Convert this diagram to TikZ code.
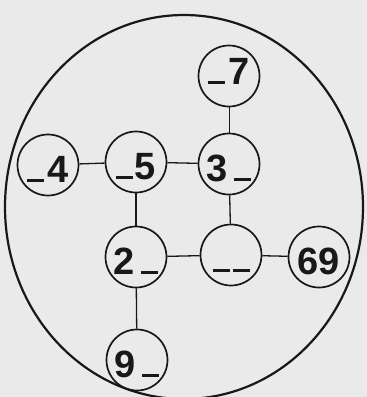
\documentclass[tikz,border=0pt]{standalone}
\usepackage{fontspec}
\setmainfont{Liberation Sans}
\usetikzlibrary{positioning}
\definecolor{paperGrey}{RGB}{234,234,234}
\definecolor{inkBlack}{RGB}{24,24,24}
\newcommand{\blank}{\rule[1pt]{17pt}{2.8pt}}
\tikzset{
  ball/.style={circle,draw=inkBlack,line width=1.7pt,minimum size=61pt,inner sep=0pt,
    text height=35pt,text depth=0pt,font=\bfseries\fontsize{38}{40}\selectfont,text=inkBlack},
  link/.style={draw=inkBlack,line width=1.3pt}
}
\begin{document}
\begin{tikzpicture}[x=1pt,y=-1pt]
\fill[paperGrey] (0,0) rectangle (367,397);
\useasboundingbox (0,0) rectangle (367,397);
% outer ring
\draw[inkBlack,line width=2.2pt] (184,207) ellipse [x radius=179,y radius=192];
% the cells
\node[ball,text height=17pt] (seven) at (229,76) {\blank\kern4pt 7};
\node[ball] (four) at (48,165) {\blank\kern4pt 4};
\node[ball] (five) at (136,162) {\blank\kern1pt 5};
\node[ball] (three) at (229,164) {3\kern6pt\blank};
\node[ball] (two) at (136,257) {2\kern6pt\blank};
\node[ball] (empty) at (231,255) {\blank\kern3pt\blank};
\node[ball] (sixnine) at (319,257) {69};
\node[ball] (nine) at (137,360) {9\kern6pt\blank};
% links
\draw[link,line width=.9pt] (seven) -- (three);
\draw[link] (four) -- (five);
\draw[link] (five) -- (three);
\draw[link] (five) -- (two);
\draw[link] (three) -- (empty);
\draw[link] (two) -- (empty);
\draw[link] (empty) -- (sixnine);
\draw[link] (two) -- (nine);
\end{tikzpicture}
\end{document}
